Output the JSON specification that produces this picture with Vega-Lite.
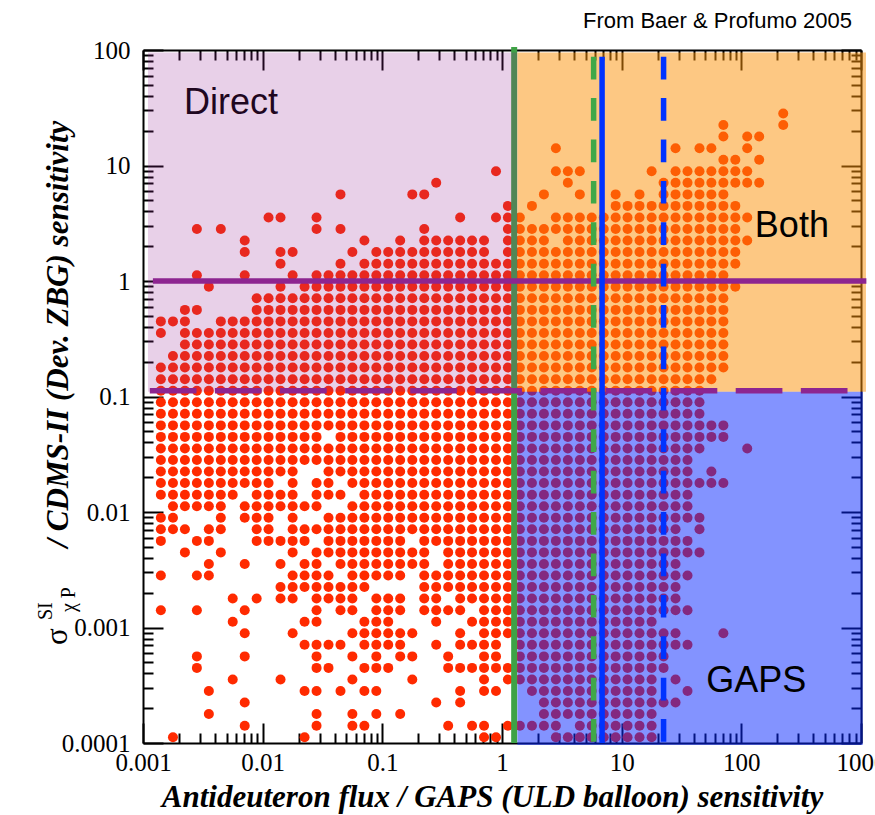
{
"$schema":"https://vega.github.io/schema/vega-lite/v6.json",
"width":718,"height":693,
"autosize":{"type":"none"},
"padding":{"left":143,"top":50,"right":14,"bottom":72},
"background":"white",
"config":{"view":{"stroke":null},"axis":{"grid":false,"tickColor":"black","tickWidth":2,"domainColor":"black","domainWidth":2,"labelFont":"Liberation Serif","labelFontSize":25,"labelColor":"black","labelFlush":false,"labelOverlap":false,"labelBound":false,"titleFont":"Liberation Serif","titleFontSize":31,"titleFontWeight":"bold","titleFontStyle":"italic","titleColor":"black","zindex":0}},
"title":{"text":"From Baer & Profumo 2005","anchor":"end","frame":"group","font":"Liberation Sans","fontSize":22,"fontWeight":"normal","color":"black","offset":5,"dx":-9},
"resolve":{"axis":{"x":"independent","y":"independent"}},
"layer":[
{"data":{"values":[
{"x":224,"y":28.2},
{"x":70.8,"y":22.4},{"x":224,"y":22.4},
{"x":70.8,"y":17.8},{"x":112,"y":17.8},{"x":141,"y":17.8},
{"x":2.82,"y":14.1},{"x":28.2,"y":14.1},{"x":44.7,"y":14.1},{"x":56.2,"y":14.1},{"x":112,"y":14.1},
{"x":70.8,"y":11.2},{"x":89.1,"y":11.2},{"x":141,"y":11.2},
{"x":0.891,"y":8.91},{"x":2.82,"y":8.91},{"x":3.55,"y":8.91},{"x":4.47,"y":8.91},{"x":17.8,"y":8.91},{"x":28.2,"y":8.91},{"x":35.5,"y":8.91},{"x":44.7,"y":8.91},{"x":56.2,"y":8.91},{"x":70.8,"y":8.91},{"x":89.1,"y":8.91},{"x":112,"y":8.91},
{"x":0.282,"y":7.08},{"x":3.55,"y":7.08},{"x":22.4,"y":7.08},{"x":28.2,"y":7.08},{"x":35.5,"y":7.08},{"x":44.7,"y":7.08},{"x":56.2,"y":7.08},{"x":70.8,"y":7.08},{"x":89.1,"y":7.08},{"x":112,"y":7.08},{"x":141,"y":7.08},
{"x":0.0447,"y":5.62},{"x":0.178,"y":5.62},{"x":0.224,"y":5.62},{"x":2.24,"y":5.62},{"x":4.47,"y":5.62},{"x":8.91,"y":5.62},{"x":14.1,"y":5.62},{"x":22.4,"y":5.62},{"x":28.2,"y":5.62},{"x":35.5,"y":5.62},{"x":44.7,"y":5.62},{"x":56.2,"y":5.62},{"x":70.8,"y":5.62},
{"x":1.12,"y":4.47},{"x":1.78,"y":4.47},{"x":8.91,"y":4.47},{"x":11.2,"y":4.47},{"x":14.1,"y":4.47},{"x":17.8,"y":4.47},{"x":22.4,"y":4.47},{"x":28.2,"y":4.47},{"x":35.5,"y":4.47},{"x":44.7,"y":4.47},{"x":56.2,"y":4.47},{"x":70.8,"y":4.47},{"x":89.1,"y":4.47},
{"x":0.0112,"y":3.55},{"x":0.0141,"y":3.55},{"x":0.0282,"y":3.55},{"x":0.447,"y":3.55},{"x":0.891,"y":3.55},{"x":1.12,"y":3.55},{"x":1.41,"y":3.55},{"x":2.82,"y":3.55},{"x":3.55,"y":3.55},{"x":4.47,"y":3.55},{"x":5.62,"y":3.55},{"x":7.08,"y":3.55},{"x":8.91,"y":3.55},{"x":11.2,"y":3.55},{"x":14.1,"y":3.55},{"x":17.8,"y":3.55},{"x":22.4,"y":3.55},{"x":28.2,"y":3.55},{"x":35.5,"y":3.55},{"x":44.7,"y":3.55},{"x":56.2,"y":3.55},{"x":70.8,"y":3.55},{"x":89.1,"y":3.55},{"x":112,"y":3.55},
{"x":0.00282,"y":2.82},{"x":0.00447,"y":2.82},{"x":0.0282,"y":2.82},{"x":0.0447,"y":2.82},{"x":0.224,"y":2.82},{"x":1.12,"y":2.82},{"x":1.41,"y":2.82},{"x":1.78,"y":2.82},{"x":2.24,"y":2.82},{"x":2.82,"y":2.82},{"x":3.55,"y":2.82},{"x":4.47,"y":2.82},{"x":5.62,"y":2.82},{"x":7.08,"y":2.82},{"x":8.91,"y":2.82},{"x":11.2,"y":2.82},{"x":14.1,"y":2.82},{"x":17.8,"y":2.82},{"x":22.4,"y":2.82},{"x":28.2,"y":2.82},{"x":35.5,"y":2.82},{"x":44.7,"y":2.82},{"x":56.2,"y":2.82},{"x":70.8,"y":2.82},{"x":89.1,"y":2.82},
{"x":0.00708,"y":2.24},{"x":0.0708,"y":2.24},{"x":0.141,"y":2.24},{"x":0.224,"y":2.24},{"x":0.282,"y":2.24},{"x":0.355,"y":2.24},{"x":0.447,"y":2.24},{"x":0.562,"y":2.24},{"x":0.708,"y":2.24},{"x":1.12,"y":2.24},{"x":1.41,"y":2.24},{"x":1.78,"y":2.24},{"x":2.24,"y":2.24},{"x":3.55,"y":2.24},{"x":4.47,"y":2.24},{"x":5.62,"y":2.24},{"x":7.08,"y":2.24},{"x":8.91,"y":2.24},{"x":11.2,"y":2.24},{"x":14.1,"y":2.24},{"x":17.8,"y":2.24},{"x":22.4,"y":2.24},{"x":28.2,"y":2.24},{"x":35.5,"y":2.24},{"x":44.7,"y":2.24},{"x":56.2,"y":2.24},{"x":70.8,"y":2.24},{"x":89.1,"y":2.24},{"x":112,"y":2.24},
{"x":0.00708,"y":1.78},{"x":0.0141,"y":1.78},{"x":0.0178,"y":1.78},{"x":0.0562,"y":1.78},{"x":0.0891,"y":1.78},{"x":0.112,"y":1.78},{"x":0.141,"y":1.78},{"x":0.178,"y":1.78},{"x":0.224,"y":1.78},{"x":0.282,"y":1.78},{"x":0.355,"y":1.78},{"x":0.447,"y":1.78},{"x":0.562,"y":1.78},{"x":0.708,"y":1.78},{"x":1.12,"y":1.78},{"x":1.41,"y":1.78},{"x":1.78,"y":1.78},{"x":2.24,"y":1.78},{"x":2.82,"y":1.78},{"x":3.55,"y":1.78},{"x":4.47,"y":1.78},{"x":5.62,"y":1.78},{"x":7.08,"y":1.78},{"x":8.91,"y":1.78},{"x":11.2,"y":1.78},{"x":14.1,"y":1.78},{"x":17.8,"y":1.78},{"x":22.4,"y":1.78},{"x":28.2,"y":1.78},{"x":35.5,"y":1.78},{"x":44.7,"y":1.78},{"x":56.2,"y":1.78},{"x":70.8,"y":1.78},{"x":89.1,"y":1.78},
{"x":0.0141,"y":1.41},{"x":0.0447,"y":1.41},{"x":0.0708,"y":1.41},{"x":0.0891,"y":1.41},{"x":0.112,"y":1.41},{"x":0.141,"y":1.41},{"x":0.178,"y":1.41},{"x":0.224,"y":1.41},{"x":0.282,"y":1.41},{"x":0.355,"y":1.41},{"x":0.447,"y":1.41},{"x":0.562,"y":1.41},{"x":0.708,"y":1.41},{"x":0.891,"y":1.41},{"x":1.12,"y":1.41},{"x":1.41,"y":1.41},{"x":1.78,"y":1.41},{"x":2.24,"y":1.41},{"x":2.82,"y":1.41},{"x":3.55,"y":1.41},{"x":4.47,"y":1.41},{"x":5.62,"y":1.41},{"x":7.08,"y":1.41},{"x":8.91,"y":1.41},{"x":11.2,"y":1.41},{"x":14.1,"y":1.41},{"x":17.8,"y":1.41},{"x":22.4,"y":1.41},{"x":28.2,"y":1.41},{"x":35.5,"y":1.41},{"x":44.7,"y":1.41},{"x":56.2,"y":1.41},{"x":70.8,"y":1.41},{"x":89.1,"y":1.41},
{"x":0.00282,"y":1.12},{"x":0.00708,"y":1.12},{"x":0.0178,"y":1.12},{"x":0.0282,"y":1.12},{"x":0.0355,"y":1.12},{"x":0.0447,"y":1.12},{"x":0.0562,"y":1.12},{"x":0.0708,"y":1.12},{"x":0.0891,"y":1.12},{"x":0.112,"y":1.12},{"x":0.141,"y":1.12},{"x":0.178,"y":1.12},{"x":0.224,"y":1.12},{"x":0.282,"y":1.12},{"x":0.355,"y":1.12},{"x":0.447,"y":1.12},{"x":0.562,"y":1.12},{"x":0.708,"y":1.12},{"x":0.891,"y":1.12},{"x":1.12,"y":1.12},{"x":1.41,"y":1.12},{"x":1.78,"y":1.12},{"x":2.24,"y":1.12},{"x":2.82,"y":1.12},{"x":3.55,"y":1.12},{"x":4.47,"y":1.12},{"x":5.62,"y":1.12},{"x":7.08,"y":1.12},{"x":8.91,"y":1.12},{"x":11.2,"y":1.12},{"x":14.1,"y":1.12},{"x":17.8,"y":1.12},{"x":22.4,"y":1.12},{"x":28.2,"y":1.12},{"x":35.5,"y":1.12},{"x":44.7,"y":1.12},{"x":56.2,"y":1.12},{"x":70.8,"y":1.12},
{"x":0.00355,"y":0.891},{"x":0.0141,"y":0.891},{"x":0.0224,"y":0.891},{"x":0.0282,"y":0.891},{"x":0.0355,"y":0.891},{"x":0.0447,"y":0.891},{"x":0.0562,"y":0.891},{"x":0.0708,"y":0.891},{"x":0.0891,"y":0.891},{"x":0.112,"y":0.891},{"x":0.141,"y":0.891},{"x":0.178,"y":0.891},{"x":0.224,"y":0.891},{"x":0.282,"y":0.891},{"x":0.355,"y":0.891},{"x":0.447,"y":0.891},{"x":0.562,"y":0.891},{"x":0.708,"y":0.891},{"x":0.891,"y":0.891},{"x":1.12,"y":0.891},{"x":1.41,"y":0.891},{"x":1.78,"y":0.891},{"x":2.24,"y":0.891},{"x":2.82,"y":0.891},{"x":3.55,"y":0.891},{"x":4.47,"y":0.891},{"x":5.62,"y":0.891},{"x":7.08,"y":0.891},{"x":8.91,"y":0.891},{"x":11.2,"y":0.891},{"x":14.1,"y":0.891},{"x":17.8,"y":0.891},{"x":22.4,"y":0.891},{"x":28.2,"y":0.891},{"x":35.5,"y":0.891},{"x":44.7,"y":0.891},{"x":56.2,"y":0.891},{"x":70.8,"y":0.891},{"x":89.1,"y":0.891},
{"x":0.00891,"y":0.708},{"x":0.0112,"y":0.708},{"x":0.0141,"y":0.708},{"x":0.0178,"y":0.708},{"x":0.0224,"y":0.708},{"x":0.0282,"y":0.708},{"x":0.0355,"y":0.708},{"x":0.0447,"y":0.708},{"x":0.0562,"y":0.708},{"x":0.0708,"y":0.708},{"x":0.0891,"y":0.708},{"x":0.112,"y":0.708},{"x":0.141,"y":0.708},{"x":0.178,"y":0.708},{"x":0.224,"y":0.708},{"x":0.282,"y":0.708},{"x":0.355,"y":0.708},{"x":0.447,"y":0.708},{"x":0.562,"y":0.708},{"x":0.708,"y":0.708},{"x":0.891,"y":0.708},{"x":1.12,"y":0.708},{"x":1.41,"y":0.708},{"x":1.78,"y":0.708},{"x":2.24,"y":0.708},{"x":2.82,"y":0.708},{"x":3.55,"y":0.708},{"x":4.47,"y":0.708},{"x":5.62,"y":0.708},{"x":7.08,"y":0.708},{"x":8.91,"y":0.708},{"x":11.2,"y":0.708},{"x":14.1,"y":0.708},{"x":17.8,"y":0.708},{"x":22.4,"y":0.708},{"x":28.2,"y":0.708},{"x":35.5,"y":0.708},{"x":44.7,"y":0.708},{"x":56.2,"y":0.708},{"x":70.8,"y":0.708},
{"x":0.00224,"y":0.562},{"x":0.00282,"y":0.562},{"x":0.00891,"y":0.562},{"x":0.0112,"y":0.562},{"x":0.0141,"y":0.562},{"x":0.0178,"y":0.562},{"x":0.0224,"y":0.562},{"x":0.0282,"y":0.562},{"x":0.0355,"y":0.562},{"x":0.0447,"y":0.562},{"x":0.0562,"y":0.562},{"x":0.0708,"y":0.562},{"x":0.0891,"y":0.562},{"x":0.112,"y":0.562},{"x":0.141,"y":0.562},{"x":0.178,"y":0.562},{"x":0.224,"y":0.562},{"x":0.282,"y":0.562},{"x":0.355,"y":0.562},{"x":0.447,"y":0.562},{"x":0.562,"y":0.562},{"x":0.708,"y":0.562},{"x":0.891,"y":0.562},{"x":1.12,"y":0.562},{"x":1.41,"y":0.562},{"x":1.78,"y":0.562},{"x":2.24,"y":0.562},{"x":2.82,"y":0.562},{"x":3.55,"y":0.562},{"x":4.47,"y":0.562},{"x":5.62,"y":0.562},{"x":7.08,"y":0.562},{"x":8.91,"y":0.562},{"x":11.2,"y":0.562},{"x":14.1,"y":0.562},{"x":17.8,"y":0.562},{"x":22.4,"y":0.562},{"x":28.2,"y":0.562},{"x":35.5,"y":0.562},{"x":44.7,"y":0.562},{"x":56.2,"y":0.562},{"x":70.8,"y":0.562},
{"x":0.00141,"y":0.447},{"x":0.00178,"y":0.447},{"x":0.00224,"y":0.447},{"x":0.00447,"y":0.447},{"x":0.00562,"y":0.447},{"x":0.00708,"y":0.447},{"x":0.00891,"y":0.447},{"x":0.0112,"y":0.447},{"x":0.0141,"y":0.447},{"x":0.0178,"y":0.447},{"x":0.0224,"y":0.447},{"x":0.0282,"y":0.447},{"x":0.0355,"y":0.447},{"x":0.0447,"y":0.447},{"x":0.0562,"y":0.447},{"x":0.0708,"y":0.447},{"x":0.0891,"y":0.447},{"x":0.112,"y":0.447},{"x":0.141,"y":0.447},{"x":0.178,"y":0.447},{"x":0.224,"y":0.447},{"x":0.282,"y":0.447},{"x":0.355,"y":0.447},{"x":0.447,"y":0.447},{"x":0.562,"y":0.447},{"x":0.708,"y":0.447},{"x":0.891,"y":0.447},{"x":1.12,"y":0.447},{"x":1.41,"y":0.447},{"x":1.78,"y":0.447},{"x":2.24,"y":0.447},{"x":2.82,"y":0.447},{"x":3.55,"y":0.447},{"x":4.47,"y":0.447},{"x":5.62,"y":0.447},{"x":7.08,"y":0.447},{"x":8.91,"y":0.447},{"x":11.2,"y":0.447},{"x":14.1,"y":0.447},{"x":17.8,"y":0.447},{"x":22.4,"y":0.447},{"x":28.2,"y":0.447},{"x":35.5,"y":0.447},{"x":44.7,"y":0.447},{"x":56.2,"y":0.447},{"x":70.8,"y":0.447},
{"x":0.00141,"y":0.355},{"x":0.00224,"y":0.355},{"x":0.00282,"y":0.355},{"x":0.00355,"y":0.355},{"x":0.00447,"y":0.355},{"x":0.00562,"y":0.355},{"x":0.00708,"y":0.355},{"x":0.00891,"y":0.355},{"x":0.0112,"y":0.355},{"x":0.0141,"y":0.355},{"x":0.0178,"y":0.355},{"x":0.0224,"y":0.355},{"x":0.0282,"y":0.355},{"x":0.0355,"y":0.355},{"x":0.0447,"y":0.355},{"x":0.0562,"y":0.355},{"x":0.0708,"y":0.355},{"x":0.0891,"y":0.355},{"x":0.112,"y":0.355},{"x":0.141,"y":0.355},{"x":0.178,"y":0.355},{"x":0.224,"y":0.355},{"x":0.282,"y":0.355},{"x":0.355,"y":0.355},{"x":0.447,"y":0.355},{"x":0.562,"y":0.355},{"x":0.708,"y":0.355},{"x":0.891,"y":0.355},{"x":1.12,"y":0.355},{"x":1.41,"y":0.355},{"x":1.78,"y":0.355},{"x":2.24,"y":0.355},{"x":2.82,"y":0.355},{"x":3.55,"y":0.355},{"x":4.47,"y":0.355},{"x":5.62,"y":0.355},{"x":7.08,"y":0.355},{"x":8.91,"y":0.355},{"x":11.2,"y":0.355},{"x":14.1,"y":0.355},{"x":17.8,"y":0.355},{"x":22.4,"y":0.355},{"x":28.2,"y":0.355},{"x":35.5,"y":0.355},{"x":44.7,"y":0.355},{"x":56.2,"y":0.355},{"x":70.8,"y":0.355},
{"x":0.00224,"y":0.282},{"x":0.00282,"y":0.282},{"x":0.00355,"y":0.282},{"x":0.00447,"y":0.282},{"x":0.00562,"y":0.282},{"x":0.00708,"y":0.282},{"x":0.00891,"y":0.282},{"x":0.0112,"y":0.282},{"x":0.0141,"y":0.282},{"x":0.0178,"y":0.282},{"x":0.0224,"y":0.282},{"x":0.0282,"y":0.282},{"x":0.0355,"y":0.282},{"x":0.0447,"y":0.282},{"x":0.0562,"y":0.282},{"x":0.0708,"y":0.282},{"x":0.0891,"y":0.282},{"x":0.112,"y":0.282},{"x":0.141,"y":0.282},{"x":0.178,"y":0.282},{"x":0.224,"y":0.282},{"x":0.282,"y":0.282},{"x":0.355,"y":0.282},{"x":0.447,"y":0.282},{"x":0.562,"y":0.282},{"x":0.708,"y":0.282},{"x":0.891,"y":0.282},{"x":1.12,"y":0.282},{"x":1.41,"y":0.282},{"x":1.78,"y":0.282},{"x":2.24,"y":0.282},{"x":2.82,"y":0.282},{"x":3.55,"y":0.282},{"x":4.47,"y":0.282},{"x":5.62,"y":0.282},{"x":7.08,"y":0.282},{"x":8.91,"y":0.282},{"x":11.2,"y":0.282},{"x":14.1,"y":0.282},{"x":17.8,"y":0.282},{"x":22.4,"y":0.282},{"x":28.2,"y":0.282},{"x":35.5,"y":0.282},{"x":44.7,"y":0.282},{"x":56.2,"y":0.282},{"x":70.8,"y":0.282},
{"x":0.00178,"y":0.224},{"x":0.00224,"y":0.224},{"x":0.00282,"y":0.224},{"x":0.00355,"y":0.224},{"x":0.00447,"y":0.224},{"x":0.00562,"y":0.224},{"x":0.00708,"y":0.224},{"x":0.00891,"y":0.224},{"x":0.0112,"y":0.224},{"x":0.0141,"y":0.224},{"x":0.0178,"y":0.224},{"x":0.0224,"y":0.224},{"x":0.0282,"y":0.224},{"x":0.0355,"y":0.224},{"x":0.0447,"y":0.224},{"x":0.0562,"y":0.224},{"x":0.0708,"y":0.224},{"x":0.0891,"y":0.224},{"x":0.112,"y":0.224},{"x":0.141,"y":0.224},{"x":0.178,"y":0.224},{"x":0.224,"y":0.224},{"x":0.282,"y":0.224},{"x":0.355,"y":0.224},{"x":0.447,"y":0.224},{"x":0.562,"y":0.224},{"x":0.708,"y":0.224},{"x":0.891,"y":0.224},{"x":1.12,"y":0.224},{"x":1.41,"y":0.224},{"x":1.78,"y":0.224},{"x":2.24,"y":0.224},{"x":2.82,"y":0.224},{"x":3.55,"y":0.224},{"x":4.47,"y":0.224},{"x":5.62,"y":0.224},{"x":7.08,"y":0.224},{"x":8.91,"y":0.224},{"x":11.2,"y":0.224},{"x":14.1,"y":0.224},{"x":17.8,"y":0.224},{"x":22.4,"y":0.224},{"x":28.2,"y":0.224},{"x":35.5,"y":0.224},{"x":44.7,"y":0.224},{"x":56.2,"y":0.224},{"x":70.8,"y":0.224},
{"x":0.00141,"y":0.178},{"x":0.00178,"y":0.178},{"x":0.00224,"y":0.178},{"x":0.00282,"y":0.178},{"x":0.00355,"y":0.178},{"x":0.00447,"y":0.178},{"x":0.00562,"y":0.178},{"x":0.00708,"y":0.178},{"x":0.00891,"y":0.178},{"x":0.0112,"y":0.178},{"x":0.0141,"y":0.178},{"x":0.0178,"y":0.178},{"x":0.0224,"y":0.178},{"x":0.0282,"y":0.178},{"x":0.0355,"y":0.178},{"x":0.0447,"y":0.178},{"x":0.0562,"y":0.178},{"x":0.0708,"y":0.178},{"x":0.0891,"y":0.178},{"x":0.112,"y":0.178},{"x":0.141,"y":0.178},{"x":0.178,"y":0.178},{"x":0.224,"y":0.178},{"x":0.282,"y":0.178},{"x":0.355,"y":0.178},{"x":0.447,"y":0.178},{"x":0.562,"y":0.178},{"x":0.708,"y":0.178},{"x":0.891,"y":0.178},{"x":1.12,"y":0.178},{"x":1.41,"y":0.178},{"x":1.78,"y":0.178},{"x":2.24,"y":0.178},{"x":2.82,"y":0.178},{"x":3.55,"y":0.178},{"x":4.47,"y":0.178},{"x":5.62,"y":0.178},{"x":7.08,"y":0.178},{"x":8.91,"y":0.178},{"x":11.2,"y":0.178},{"x":14.1,"y":0.178},{"x":17.8,"y":0.178},{"x":22.4,"y":0.178},{"x":28.2,"y":0.178},{"x":35.5,"y":0.178},{"x":44.7,"y":0.178},{"x":56.2,"y":0.178},{"x":70.8,"y":0.178},
{"x":0.00141,"y":0.141},{"x":0.00178,"y":0.141},{"x":0.00224,"y":0.141},{"x":0.00282,"y":0.141},{"x":0.00355,"y":0.141},{"x":0.00447,"y":0.141},{"x":0.00562,"y":0.141},{"x":0.00708,"y":0.141},{"x":0.00891,"y":0.141},{"x":0.0112,"y":0.141},{"x":0.0141,"y":0.141},{"x":0.0178,"y":0.141},{"x":0.0224,"y":0.141},{"x":0.0282,"y":0.141},{"x":0.0355,"y":0.141},{"x":0.0447,"y":0.141},{"x":0.0562,"y":0.141},{"x":0.0708,"y":0.141},{"x":0.0891,"y":0.141},{"x":0.112,"y":0.141},{"x":0.141,"y":0.141},{"x":0.178,"y":0.141},{"x":0.224,"y":0.141},{"x":0.282,"y":0.141},{"x":0.355,"y":0.141},{"x":0.447,"y":0.141},{"x":0.562,"y":0.141},{"x":0.708,"y":0.141},{"x":0.891,"y":0.141},{"x":1.12,"y":0.141},{"x":1.41,"y":0.141},{"x":1.78,"y":0.141},{"x":2.24,"y":0.141},{"x":2.82,"y":0.141},{"x":3.55,"y":0.141},{"x":4.47,"y":0.141},{"x":5.62,"y":0.141},{"x":7.08,"y":0.141},{"x":8.91,"y":0.141},{"x":11.2,"y":0.141},{"x":14.1,"y":0.141},{"x":17.8,"y":0.141},{"x":22.4,"y":0.141},{"x":28.2,"y":0.141},{"x":35.5,"y":0.141},{"x":44.7,"y":0.141},{"x":56.2,"y":0.141},
{"x":0.00141,"y":0.112},{"x":0.00178,"y":0.112},{"x":0.00224,"y":0.112},{"x":0.00282,"y":0.112},{"x":0.00355,"y":0.112},{"x":0.00447,"y":0.112},{"x":0.00562,"y":0.112},{"x":0.00708,"y":0.112},{"x":0.00891,"y":0.112},{"x":0.0112,"y":0.112},{"x":0.0141,"y":0.112},{"x":0.0178,"y":0.112},{"x":0.0224,"y":0.112},{"x":0.0282,"y":0.112},{"x":0.0355,"y":0.112},{"x":0.0447,"y":0.112},{"x":0.0562,"y":0.112},{"x":0.0708,"y":0.112},{"x":0.0891,"y":0.112},{"x":0.112,"y":0.112},{"x":0.141,"y":0.112},{"x":0.178,"y":0.112},{"x":0.224,"y":0.112},{"x":0.282,"y":0.112},{"x":0.355,"y":0.112},{"x":0.447,"y":0.112},{"x":0.562,"y":0.112},{"x":0.708,"y":0.112},{"x":0.891,"y":0.112},{"x":1.12,"y":0.112},{"x":1.41,"y":0.112},{"x":1.78,"y":0.112},{"x":2.24,"y":0.112},{"x":2.82,"y":0.112},{"x":3.55,"y":0.112},{"x":4.47,"y":0.112},{"x":5.62,"y":0.112},{"x":7.08,"y":0.112},{"x":8.91,"y":0.112},{"x":11.2,"y":0.112},{"x":14.1,"y":0.112},{"x":17.8,"y":0.112},{"x":22.4,"y":0.112},{"x":28.2,"y":0.112},{"x":35.5,"y":0.112},{"x":44.7,"y":0.112},
{"x":0.00141,"y":0.0891},{"x":0.00178,"y":0.0891},{"x":0.00224,"y":0.0891},{"x":0.00282,"y":0.0891},{"x":0.00355,"y":0.0891},{"x":0.00447,"y":0.0891},{"x":0.00562,"y":0.0891},{"x":0.00708,"y":0.0891},{"x":0.00891,"y":0.0891},{"x":0.0112,"y":0.0891},{"x":0.0141,"y":0.0891},{"x":0.0178,"y":0.0891},{"x":0.0224,"y":0.0891},{"x":0.0282,"y":0.0891},{"x":0.0355,"y":0.0891},{"x":0.0447,"y":0.0891},{"x":0.0562,"y":0.0891},{"x":0.0708,"y":0.0891},{"x":0.0891,"y":0.0891},{"x":0.112,"y":0.0891},{"x":0.141,"y":0.0891},{"x":0.178,"y":0.0891},{"x":0.224,"y":0.0891},{"x":0.282,"y":0.0891},{"x":0.355,"y":0.0891},{"x":0.447,"y":0.0891},{"x":0.562,"y":0.0891},{"x":0.708,"y":0.0891},{"x":0.891,"y":0.0891},{"x":1.12,"y":0.0891},{"x":1.41,"y":0.0891},{"x":1.78,"y":0.0891},{"x":2.24,"y":0.0891},{"x":2.82,"y":0.0891},{"x":3.55,"y":0.0891},{"x":4.47,"y":0.0891},{"x":5.62,"y":0.0891},{"x":7.08,"y":0.0891},{"x":8.91,"y":0.0891},{"x":11.2,"y":0.0891},{"x":14.1,"y":0.0891},{"x":17.8,"y":0.0891},{"x":22.4,"y":0.0891},{"x":28.2,"y":0.0891},{"x":35.5,"y":0.0891},{"x":44.7,"y":0.0891},
{"x":0.00141,"y":0.0708},{"x":0.00178,"y":0.0708},{"x":0.00224,"y":0.0708},{"x":0.00282,"y":0.0708},{"x":0.00355,"y":0.0708},{"x":0.00447,"y":0.0708},{"x":0.00562,"y":0.0708},{"x":0.00708,"y":0.0708},{"x":0.00891,"y":0.0708},{"x":0.0112,"y":0.0708},{"x":0.0141,"y":0.0708},{"x":0.0178,"y":0.0708},{"x":0.0224,"y":0.0708},{"x":0.0282,"y":0.0708},{"x":0.0355,"y":0.0708},{"x":0.0447,"y":0.0708},{"x":0.0562,"y":0.0708},{"x":0.0708,"y":0.0708},{"x":0.0891,"y":0.0708},{"x":0.112,"y":0.0708},{"x":0.141,"y":0.0708},{"x":0.178,"y":0.0708},{"x":0.224,"y":0.0708},{"x":0.282,"y":0.0708},{"x":0.355,"y":0.0708},{"x":0.447,"y":0.0708},{"x":0.562,"y":0.0708},{"x":0.708,"y":0.0708},{"x":0.891,"y":0.0708},{"x":1.12,"y":0.0708},{"x":1.41,"y":0.0708},{"x":1.78,"y":0.0708},{"x":2.24,"y":0.0708},{"x":2.82,"y":0.0708},{"x":3.55,"y":0.0708},{"x":4.47,"y":0.0708},{"x":5.62,"y":0.0708},{"x":7.08,"y":0.0708},{"x":8.91,"y":0.0708},{"x":11.2,"y":0.0708},{"x":14.1,"y":0.0708},{"x":17.8,"y":0.0708},{"x":22.4,"y":0.0708},{"x":28.2,"y":0.0708},{"x":35.5,"y":0.0708},{"x":44.7,"y":0.0708},
{"x":0.00141,"y":0.0562},{"x":0.00178,"y":0.0562},{"x":0.00224,"y":0.0562},{"x":0.00282,"y":0.0562},{"x":0.00355,"y":0.0562},{"x":0.00447,"y":0.0562},{"x":0.00562,"y":0.0562},{"x":0.00708,"y":0.0562},{"x":0.00891,"y":0.0562},{"x":0.0112,"y":0.0562},{"x":0.0141,"y":0.0562},{"x":0.0178,"y":0.0562},{"x":0.0224,"y":0.0562},{"x":0.0282,"y":0.0562},{"x":0.0355,"y":0.0562},{"x":0.0447,"y":0.0562},{"x":0.0562,"y":0.0562},{"x":0.0708,"y":0.0562},{"x":0.0891,"y":0.0562},{"x":0.112,"y":0.0562},{"x":0.141,"y":0.0562},{"x":0.178,"y":0.0562},{"x":0.224,"y":0.0562},{"x":0.282,"y":0.0562},{"x":0.355,"y":0.0562},{"x":0.447,"y":0.0562},{"x":0.562,"y":0.0562},{"x":0.708,"y":0.0562},{"x":0.891,"y":0.0562},{"x":1.12,"y":0.0562},{"x":1.41,"y":0.0562},{"x":1.78,"y":0.0562},{"x":2.24,"y":0.0562},{"x":2.82,"y":0.0562},{"x":3.55,"y":0.0562},{"x":4.47,"y":0.0562},{"x":5.62,"y":0.0562},{"x":7.08,"y":0.0562},{"x":8.91,"y":0.0562},{"x":11.2,"y":0.0562},{"x":14.1,"y":0.0562},{"x":17.8,"y":0.0562},{"x":22.4,"y":0.0562},{"x":28.2,"y":0.0562},{"x":35.5,"y":0.0562},{"x":44.7,"y":0.0562},{"x":56.2,"y":0.0562},{"x":70.8,"y":0.0562},
{"x":0.00141,"y":0.0447},{"x":0.00178,"y":0.0447},{"x":0.00224,"y":0.0447},{"x":0.00282,"y":0.0447},{"x":0.00355,"y":0.0447},{"x":0.00447,"y":0.0447},{"x":0.00562,"y":0.0447},{"x":0.00708,"y":0.0447},{"x":0.00891,"y":0.0447},{"x":0.0112,"y":0.0447},{"x":0.0141,"y":0.0447},{"x":0.0178,"y":0.0447},{"x":0.0224,"y":0.0447},{"x":0.0282,"y":0.0447},{"x":0.0447,"y":0.0447},{"x":0.0562,"y":0.0447},{"x":0.0708,"y":0.0447},{"x":0.0891,"y":0.0447},{"x":0.112,"y":0.0447},{"x":0.141,"y":0.0447},{"x":0.178,"y":0.0447},{"x":0.224,"y":0.0447},{"x":0.282,"y":0.0447},{"x":0.355,"y":0.0447},{"x":0.447,"y":0.0447},{"x":0.562,"y":0.0447},{"x":0.708,"y":0.0447},{"x":0.891,"y":0.0447},{"x":1.12,"y":0.0447},{"x":1.41,"y":0.0447},{"x":1.78,"y":0.0447},{"x":2.24,"y":0.0447},{"x":2.82,"y":0.0447},{"x":3.55,"y":0.0447},{"x":4.47,"y":0.0447},{"x":5.62,"y":0.0447},{"x":7.08,"y":0.0447},{"x":8.91,"y":0.0447},{"x":11.2,"y":0.0447},{"x":14.1,"y":0.0447},{"x":17.8,"y":0.0447},{"x":22.4,"y":0.0447},{"x":28.2,"y":0.0447},{"x":35.5,"y":0.0447},{"x":44.7,"y":0.0447},{"x":56.2,"y":0.0447},{"x":70.8,"y":0.0447},
{"x":0.00141,"y":0.0355},{"x":0.00178,"y":0.0355},{"x":0.00224,"y":0.0355},{"x":0.00282,"y":0.0355},{"x":0.00355,"y":0.0355},{"x":0.00447,"y":0.0355},{"x":0.00562,"y":0.0355},{"x":0.00708,"y":0.0355},{"x":0.00891,"y":0.0355},{"x":0.0112,"y":0.0355},{"x":0.0141,"y":0.0355},{"x":0.0178,"y":0.0355},{"x":0.0224,"y":0.0355},{"x":0.0282,"y":0.0355},{"x":0.0355,"y":0.0355},{"x":0.0447,"y":0.0355},{"x":0.0562,"y":0.0355},{"x":0.0708,"y":0.0355},{"x":0.0891,"y":0.0355},{"x":0.112,"y":0.0355},{"x":0.141,"y":0.0355},{"x":0.178,"y":0.0355},{"x":0.224,"y":0.0355},{"x":0.282,"y":0.0355},{"x":0.355,"y":0.0355},{"x":0.447,"y":0.0355},{"x":0.562,"y":0.0355},{"x":0.708,"y":0.0355},{"x":0.891,"y":0.0355},{"x":1.12,"y":0.0355},{"x":1.41,"y":0.0355},{"x":1.78,"y":0.0355},{"x":2.24,"y":0.0355},{"x":2.82,"y":0.0355},{"x":3.55,"y":0.0355},{"x":4.47,"y":0.0355},{"x":5.62,"y":0.0355},{"x":7.08,"y":0.0355},{"x":8.91,"y":0.0355},{"x":11.2,"y":0.0355},{"x":14.1,"y":0.0355},{"x":17.8,"y":0.0355},{"x":22.4,"y":0.0355},{"x":28.2,"y":0.0355},{"x":35.5,"y":0.0355},{"x":44.7,"y":0.0355},{"x":112,"y":0.0355},
{"x":0.00141,"y":0.0282},{"x":0.00178,"y":0.0282},{"x":0.00224,"y":0.0282},{"x":0.00282,"y":0.0282},{"x":0.00355,"y":0.0282},{"x":0.00447,"y":0.0282},{"x":0.00562,"y":0.0282},{"x":0.00708,"y":0.0282},{"x":0.00891,"y":0.0282},{"x":0.0112,"y":0.0282},{"x":0.0141,"y":0.0282},{"x":0.0178,"y":0.0282},{"x":0.0224,"y":0.0282},{"x":0.0282,"y":0.0282},{"x":0.0355,"y":0.0282},{"x":0.0447,"y":0.0282},{"x":0.0562,"y":0.0282},{"x":0.0708,"y":0.0282},{"x":0.0891,"y":0.0282},{"x":0.112,"y":0.0282},{"x":0.141,"y":0.0282},{"x":0.178,"y":0.0282},{"x":0.224,"y":0.0282},{"x":0.282,"y":0.0282},{"x":0.355,"y":0.0282},{"x":0.447,"y":0.0282},{"x":0.562,"y":0.0282},{"x":0.708,"y":0.0282},{"x":0.891,"y":0.0282},{"x":1.12,"y":0.0282},{"x":1.41,"y":0.0282},{"x":1.78,"y":0.0282},{"x":2.24,"y":0.0282},{"x":2.82,"y":0.0282},{"x":3.55,"y":0.0282},{"x":4.47,"y":0.0282},{"x":5.62,"y":0.0282},{"x":7.08,"y":0.0282},{"x":8.91,"y":0.0282},{"x":11.2,"y":0.0282},{"x":14.1,"y":0.0282},{"x":17.8,"y":0.0282},{"x":22.4,"y":0.0282},{"x":28.2,"y":0.0282},{"x":35.5,"y":0.0282},
{"x":0.00141,"y":0.0224},{"x":0.00178,"y":0.0224},{"x":0.00224,"y":0.0224},{"x":0.00282,"y":0.0224},{"x":0.00355,"y":0.0224},{"x":0.00447,"y":0.0224},{"x":0.00562,"y":0.0224},{"x":0.00708,"y":0.0224},{"x":0.00891,"y":0.0224},{"x":0.0112,"y":0.0224},{"x":0.0141,"y":0.0224},{"x":0.0178,"y":0.0224},{"x":0.0355,"y":0.0224},{"x":0.0447,"y":0.0224},{"x":0.0562,"y":0.0224},{"x":0.0708,"y":0.0224},{"x":0.0891,"y":0.0224},{"x":0.112,"y":0.0224},{"x":0.141,"y":0.0224},{"x":0.178,"y":0.0224},{"x":0.224,"y":0.0224},{"x":0.282,"y":0.0224},{"x":0.355,"y":0.0224},{"x":0.447,"y":0.0224},{"x":0.562,"y":0.0224},{"x":0.708,"y":0.0224},{"x":0.891,"y":0.0224},{"x":1.12,"y":0.0224},{"x":1.41,"y":0.0224},{"x":1.78,"y":0.0224},{"x":2.24,"y":0.0224},{"x":2.82,"y":0.0224},{"x":3.55,"y":0.0224},{"x":4.47,"y":0.0224},{"x":5.62,"y":0.0224},{"x":7.08,"y":0.0224},{"x":8.91,"y":0.0224},{"x":11.2,"y":0.0224},{"x":14.1,"y":0.0224},{"x":17.8,"y":0.0224},{"x":22.4,"y":0.0224},{"x":28.2,"y":0.0224},{"x":35.5,"y":0.0224},{"x":56.2,"y":0.0224},
{"x":0.00141,"y":0.0178},{"x":0.00178,"y":0.0178},{"x":0.00224,"y":0.0178},{"x":0.00282,"y":0.0178},{"x":0.00355,"y":0.0178},{"x":0.00447,"y":0.0178},{"x":0.00562,"y":0.0178},{"x":0.00708,"y":0.0178},{"x":0.00891,"y":0.0178},{"x":0.0112,"y":0.0178},{"x":0.0178,"y":0.0178},{"x":0.0282,"y":0.0178},{"x":0.0355,"y":0.0178},{"x":0.0562,"y":0.0178},{"x":0.0708,"y":0.0178},{"x":0.0891,"y":0.0178},{"x":0.112,"y":0.0178},{"x":0.141,"y":0.0178},{"x":0.178,"y":0.0178},{"x":0.224,"y":0.0178},{"x":0.282,"y":0.0178},{"x":0.355,"y":0.0178},{"x":0.447,"y":0.0178},{"x":0.562,"y":0.0178},{"x":0.708,"y":0.0178},{"x":0.891,"y":0.0178},{"x":1.12,"y":0.0178},{"x":1.41,"y":0.0178},{"x":1.78,"y":0.0178},{"x":2.24,"y":0.0178},{"x":2.82,"y":0.0178},{"x":3.55,"y":0.0178},{"x":4.47,"y":0.0178},{"x":5.62,"y":0.0178},{"x":7.08,"y":0.0178},{"x":8.91,"y":0.0178},{"x":11.2,"y":0.0178},{"x":14.1,"y":0.0178},{"x":17.8,"y":0.0178},{"x":22.4,"y":0.0178},{"x":28.2,"y":0.0178},{"x":35.5,"y":0.0178},{"x":44.7,"y":0.0178},{"x":56.2,"y":0.0178},{"x":70.8,"y":0.0178},
{"x":0.00141,"y":0.0141},{"x":0.00178,"y":0.0141},{"x":0.00224,"y":0.0141},{"x":0.00282,"y":0.0141},{"x":0.00355,"y":0.0141},{"x":0.00447,"y":0.0141},{"x":0.00562,"y":0.0141},{"x":0.00891,"y":0.0141},{"x":0.0112,"y":0.0141},{"x":0.0141,"y":0.0141},{"x":0.0178,"y":0.0141},{"x":0.0282,"y":0.0141},{"x":0.0355,"y":0.0141},{"x":0.0447,"y":0.0141},{"x":0.0708,"y":0.0141},{"x":0.0891,"y":0.0141},{"x":0.112,"y":0.0141},{"x":0.141,"y":0.0141},{"x":0.178,"y":0.0141},{"x":0.224,"y":0.0141},{"x":0.282,"y":0.0141},{"x":0.355,"y":0.0141},{"x":0.447,"y":0.0141},{"x":0.562,"y":0.0141},{"x":0.708,"y":0.0141},{"x":0.891,"y":0.0141},{"x":1.12,"y":0.0141},{"x":1.41,"y":0.0141},{"x":1.78,"y":0.0141},{"x":2.24,"y":0.0141},{"x":2.82,"y":0.0141},{"x":3.55,"y":0.0141},{"x":4.47,"y":0.0141},{"x":5.62,"y":0.0141},{"x":7.08,"y":0.0141},{"x":8.91,"y":0.0141},{"x":11.2,"y":0.0141},{"x":14.1,"y":0.0141},{"x":17.8,"y":0.0141},{"x":22.4,"y":0.0141},{"x":28.2,"y":0.0141},{"x":35.5,"y":0.0141},
{"x":0.00178,"y":0.0112},{"x":0.00224,"y":0.0112},{"x":0.00282,"y":0.0112},{"x":0.00355,"y":0.0112},{"x":0.00447,"y":0.0112},{"x":0.00708,"y":0.0112},{"x":0.00891,"y":0.0112},{"x":0.0112,"y":0.0112},{"x":0.0141,"y":0.0112},{"x":0.0178,"y":0.0112},{"x":0.0224,"y":0.0112},{"x":0.0282,"y":0.0112},{"x":0.0562,"y":0.0112},{"x":0.0708,"y":0.0112},{"x":0.0891,"y":0.0112},{"x":0.112,"y":0.0112},{"x":0.141,"y":0.0112},{"x":0.178,"y":0.0112},{"x":0.224,"y":0.0112},{"x":0.282,"y":0.0112},{"x":0.355,"y":0.0112},{"x":0.447,"y":0.0112},{"x":0.562,"y":0.0112},{"x":0.708,"y":0.0112},{"x":0.891,"y":0.0112},{"x":1.12,"y":0.0112},{"x":1.41,"y":0.0112},{"x":1.78,"y":0.0112},{"x":2.24,"y":0.0112},{"x":2.82,"y":0.0112},{"x":3.55,"y":0.0112},{"x":4.47,"y":0.0112},{"x":5.62,"y":0.0112},{"x":7.08,"y":0.0112},{"x":8.91,"y":0.0112},{"x":11.2,"y":0.0112},{"x":14.1,"y":0.0112},{"x":17.8,"y":0.0112},{"x":22.4,"y":0.0112},{"x":28.2,"y":0.0112},{"x":35.5,"y":0.0112},
{"x":0.00141,"y":0.00891},{"x":0.00178,"y":0.00891},{"x":0.00447,"y":0.00891},{"x":0.00708,"y":0.00891},{"x":0.00891,"y":0.00891},{"x":0.0112,"y":0.00891},{"x":0.0178,"y":0.00891},{"x":0.0355,"y":0.00891},{"x":0.0447,"y":0.00891},{"x":0.0562,"y":0.00891},{"x":0.0708,"y":0.00891},{"x":0.0891,"y":0.00891},{"x":0.112,"y":0.00891},{"x":0.141,"y":0.00891},{"x":0.178,"y":0.00891},{"x":0.224,"y":0.00891},{"x":0.282,"y":0.00891},{"x":0.355,"y":0.00891},{"x":0.447,"y":0.00891},{"x":0.562,"y":0.00891},{"x":0.708,"y":0.00891},{"x":0.891,"y":0.00891},{"x":1.12,"y":0.00891},{"x":1.41,"y":0.00891},{"x":1.78,"y":0.00891},{"x":2.24,"y":0.00891},{"x":2.82,"y":0.00891},{"x":3.55,"y":0.00891},{"x":4.47,"y":0.00891},{"x":5.62,"y":0.00891},{"x":7.08,"y":0.00891},{"x":8.91,"y":0.00891},{"x":11.2,"y":0.00891},{"x":14.1,"y":0.00891},{"x":17.8,"y":0.00891},{"x":22.4,"y":0.00891},{"x":28.2,"y":0.00891},{"x":35.5,"y":0.00891},{"x":44.7,"y":0.00891},
{"x":0.00141,"y":0.00708},{"x":0.00178,"y":0.00708},{"x":0.00224,"y":0.00708},{"x":0.00355,"y":0.00708},{"x":0.00447,"y":0.00708},{"x":0.00891,"y":0.00708},{"x":0.0112,"y":0.00708},{"x":0.0178,"y":0.00708},{"x":0.0224,"y":0.00708},{"x":0.0282,"y":0.00708},{"x":0.0355,"y":0.00708},{"x":0.0447,"y":0.00708},{"x":0.0562,"y":0.00708},{"x":0.0708,"y":0.00708},{"x":0.0891,"y":0.00708},{"x":0.112,"y":0.00708},{"x":0.141,"y":0.00708},{"x":0.178,"y":0.00708},{"x":0.224,"y":0.00708},{"x":0.282,"y":0.00708},{"x":0.355,"y":0.00708},{"x":0.447,"y":0.00708},{"x":0.562,"y":0.00708},{"x":0.708,"y":0.00708},{"x":0.891,"y":0.00708},{"x":1.12,"y":0.00708},{"x":1.41,"y":0.00708},{"x":1.78,"y":0.00708},{"x":2.24,"y":0.00708},{"x":2.82,"y":0.00708},{"x":3.55,"y":0.00708},{"x":4.47,"y":0.00708},{"x":5.62,"y":0.00708},{"x":7.08,"y":0.00708},{"x":8.91,"y":0.00708},{"x":11.2,"y":0.00708},{"x":14.1,"y":0.00708},{"x":17.8,"y":0.00708},{"x":22.4,"y":0.00708},{"x":28.2,"y":0.00708},{"x":44.7,"y":0.00708},
{"x":0.00141,"y":0.00562},{"x":0.00282,"y":0.00562},{"x":0.00355,"y":0.00562},{"x":0.00891,"y":0.00562},{"x":0.0112,"y":0.00562},{"x":0.0141,"y":0.00562},{"x":0.0178,"y":0.00562},{"x":0.0224,"y":0.00562},{"x":0.0355,"y":0.00562},{"x":0.0447,"y":0.00562},{"x":0.0562,"y":0.00562},{"x":0.0708,"y":0.00562},{"x":0.0891,"y":0.00562},{"x":0.112,"y":0.00562},{"x":0.141,"y":0.00562},{"x":0.224,"y":0.00562},{"x":0.282,"y":0.00562},{"x":0.355,"y":0.00562},{"x":0.447,"y":0.00562},{"x":0.562,"y":0.00562},{"x":0.708,"y":0.00562},{"x":0.891,"y":0.00562},{"x":1.12,"y":0.00562},{"x":1.41,"y":0.00562},{"x":1.78,"y":0.00562},{"x":2.24,"y":0.00562},{"x":2.82,"y":0.00562},{"x":3.55,"y":0.00562},{"x":4.47,"y":0.00562},{"x":5.62,"y":0.00562},{"x":7.08,"y":0.00562},{"x":8.91,"y":0.00562},{"x":11.2,"y":0.00562},{"x":14.1,"y":0.00562},{"x":17.8,"y":0.00562},{"x":22.4,"y":0.00562},{"x":28.2,"y":0.00562},{"x":35.5,"y":0.00562},
{"x":0.00224,"y":0.00447},{"x":0.00447,"y":0.00447},{"x":0.0178,"y":0.00447},{"x":0.0282,"y":0.00447},{"x":0.0355,"y":0.00447},{"x":0.0447,"y":0.00447},{"x":0.0562,"y":0.00447},{"x":0.0708,"y":0.00447},{"x":0.0891,"y":0.00447},{"x":0.112,"y":0.00447},{"x":0.141,"y":0.00447},{"x":0.178,"y":0.00447},{"x":0.224,"y":0.00447},{"x":0.355,"y":0.00447},{"x":0.447,"y":0.00447},{"x":0.562,"y":0.00447},{"x":0.708,"y":0.00447},{"x":0.891,"y":0.00447},{"x":1.12,"y":0.00447},{"x":1.41,"y":0.00447},{"x":1.78,"y":0.00447},{"x":2.24,"y":0.00447},{"x":2.82,"y":0.00447},{"x":3.55,"y":0.00447},{"x":4.47,"y":0.00447},{"x":5.62,"y":0.00447},{"x":7.08,"y":0.00447},{"x":8.91,"y":0.00447},{"x":11.2,"y":0.00447},{"x":14.1,"y":0.00447},{"x":17.8,"y":0.00447},{"x":22.4,"y":0.00447},{"x":28.2,"y":0.00447},{"x":35.5,"y":0.00447},{"x":44.7,"y":0.00447},
{"x":0.00355,"y":0.00355},{"x":0.00708,"y":0.00355},{"x":0.0141,"y":0.00355},{"x":0.0224,"y":0.00355},{"x":0.0282,"y":0.00355},{"x":0.0447,"y":0.00355},{"x":0.0562,"y":0.00355},{"x":0.0708,"y":0.00355},{"x":0.0891,"y":0.00355},{"x":0.112,"y":0.00355},{"x":0.141,"y":0.00355},{"x":0.178,"y":0.00355},{"x":0.224,"y":0.00355},{"x":0.355,"y":0.00355},{"x":0.447,"y":0.00355},{"x":0.562,"y":0.00355},{"x":0.708,"y":0.00355},{"x":0.891,"y":0.00355},{"x":1.12,"y":0.00355},{"x":1.41,"y":0.00355},{"x":1.78,"y":0.00355},{"x":2.24,"y":0.00355},{"x":2.82,"y":0.00355},{"x":3.55,"y":0.00355},{"x":4.47,"y":0.00355},{"x":5.62,"y":0.00355},{"x":7.08,"y":0.00355},{"x":8.91,"y":0.00355},{"x":11.2,"y":0.00355},{"x":14.1,"y":0.00355},{"x":17.8,"y":0.00355},{"x":22.4,"y":0.00355},{"x":28.2,"y":0.00355},
{"x":0.00141,"y":0.00282},{"x":0.00282,"y":0.00282},{"x":0.00355,"y":0.00282},{"x":0.0178,"y":0.00282},{"x":0.0224,"y":0.00282},{"x":0.0282,"y":0.00282},{"x":0.0355,"y":0.00282},{"x":0.0562,"y":0.00282},{"x":0.0708,"y":0.00282},{"x":0.0891,"y":0.00282},{"x":0.112,"y":0.00282},{"x":0.141,"y":0.00282},{"x":0.224,"y":0.00282},{"x":0.282,"y":0.00282},{"x":0.355,"y":0.00282},{"x":0.447,"y":0.00282},{"x":0.562,"y":0.00282},{"x":0.708,"y":0.00282},{"x":0.891,"y":0.00282},{"x":1.12,"y":0.00282},{"x":1.41,"y":0.00282},{"x":1.78,"y":0.00282},{"x":2.24,"y":0.00282},{"x":2.82,"y":0.00282},{"x":3.55,"y":0.00282},{"x":4.47,"y":0.00282},{"x":5.62,"y":0.00282},{"x":7.08,"y":0.00282},{"x":8.91,"y":0.00282},{"x":11.2,"y":0.00282},{"x":14.1,"y":0.00282},{"x":17.8,"y":0.00282},{"x":22.4,"y":0.00282},{"x":28.2,"y":0.00282},{"x":35.5,"y":0.00282},
{"x":0.0141,"y":0.00224},{"x":0.0178,"y":0.00224},{"x":0.0224,"y":0.00224},{"x":0.0282,"y":0.00224},{"x":0.0355,"y":0.00224},{"x":0.0447,"y":0.00224},{"x":0.0562,"y":0.00224},{"x":0.0708,"y":0.00224},{"x":0.224,"y":0.00224},{"x":0.282,"y":0.00224},{"x":0.355,"y":0.00224},{"x":0.447,"y":0.00224},{"x":0.562,"y":0.00224},{"x":0.708,"y":0.00224},{"x":0.891,"y":0.00224},{"x":1.12,"y":0.00224},{"x":1.41,"y":0.00224},{"x":1.78,"y":0.00224},{"x":2.24,"y":0.00224},{"x":2.82,"y":0.00224},{"x":3.55,"y":0.00224},{"x":4.47,"y":0.00224},{"x":5.62,"y":0.00224},{"x":7.08,"y":0.00224},{"x":8.91,"y":0.00224},{"x":11.2,"y":0.00224},{"x":14.1,"y":0.00224},{"x":17.8,"y":0.00224},{"x":22.4,"y":0.00224},{"x":28.2,"y":0.00224},
{"x":0.00562,"y":0.00178},{"x":0.00891,"y":0.00178},{"x":0.0141,"y":0.00178},{"x":0.0178,"y":0.00178},{"x":0.0282,"y":0.00178},{"x":0.0355,"y":0.00178},{"x":0.0447,"y":0.00178},{"x":0.0562,"y":0.00178},{"x":0.0891,"y":0.00178},{"x":0.112,"y":0.00178},{"x":0.141,"y":0.00178},{"x":0.224,"y":0.00178},{"x":0.282,"y":0.00178},{"x":0.447,"y":0.00178},{"x":0.562,"y":0.00178},{"x":0.708,"y":0.00178},{"x":0.891,"y":0.00178},{"x":1.12,"y":0.00178},{"x":1.41,"y":0.00178},{"x":1.78,"y":0.00178},{"x":2.24,"y":0.00178},{"x":2.82,"y":0.00178},{"x":3.55,"y":0.00178},{"x":4.47,"y":0.00178},{"x":5.62,"y":0.00178},{"x":7.08,"y":0.00178},{"x":8.91,"y":0.00178},{"x":11.2,"y":0.00178},{"x":14.1,"y":0.00178},{"x":17.8,"y":0.00178},{"x":22.4,"y":0.00178},{"x":28.2,"y":0.00178},
{"x":0.00141,"y":0.00141},{"x":0.00282,"y":0.00141},{"x":0.00708,"y":0.00141},{"x":0.0282,"y":0.00141},{"x":0.0447,"y":0.00141},{"x":0.0562,"y":0.00141},{"x":0.0891,"y":0.00141},{"x":0.112,"y":0.00141},{"x":0.141,"y":0.00141},{"x":0.224,"y":0.00141},{"x":0.282,"y":0.00141},{"x":0.355,"y":0.00141},{"x":0.447,"y":0.00141},{"x":0.708,"y":0.00141},{"x":0.891,"y":0.00141},{"x":1.12,"y":0.00141},{"x":1.41,"y":0.00141},{"x":1.78,"y":0.00141},{"x":2.24,"y":0.00141},{"x":2.82,"y":0.00141},{"x":3.55,"y":0.00141},{"x":4.47,"y":0.00141},{"x":5.62,"y":0.00141},{"x":7.08,"y":0.00141},{"x":8.91,"y":0.00141},{"x":11.2,"y":0.00141},{"x":14.1,"y":0.00141},{"x":17.8,"y":0.00141},{"x":22.4,"y":0.00141},{"x":28.2,"y":0.00141},{"x":35.5,"y":0.00141},
{"x":0.00562,"y":0.00112},{"x":0.0224,"y":0.00112},{"x":0.0282,"y":0.00112},{"x":0.0708,"y":0.00112},{"x":0.0891,"y":0.00112},{"x":0.112,"y":0.00112},{"x":0.282,"y":0.00112},{"x":0.562,"y":0.00112},{"x":0.708,"y":0.00112},{"x":0.891,"y":0.00112},{"x":1.12,"y":0.00112},{"x":1.41,"y":0.00112},{"x":1.78,"y":0.00112},{"x":2.24,"y":0.00112},{"x":2.82,"y":0.00112},{"x":3.55,"y":0.00112},{"x":4.47,"y":0.00112},{"x":5.62,"y":0.00112},{"x":7.08,"y":0.00112},{"x":8.91,"y":0.00112},{"x":11.2,"y":0.00112},{"x":14.1,"y":0.00112},{"x":17.8,"y":0.00112},
{"x":0.00708,"y":0.000891},{"x":0.0178,"y":0.000891},{"x":0.0562,"y":0.000891},{"x":0.0708,"y":0.000891},{"x":0.0891,"y":0.000891},{"x":0.112,"y":0.000891},{"x":0.141,"y":0.000891},{"x":0.178,"y":0.000891},{"x":0.447,"y":0.000891},{"x":0.708,"y":0.000891},{"x":0.891,"y":0.000891},{"x":1.12,"y":0.000891},{"x":1.41,"y":0.000891},{"x":1.78,"y":0.000891},{"x":2.24,"y":0.000891},{"x":2.82,"y":0.000891},{"x":3.55,"y":0.000891},{"x":4.47,"y":0.000891},{"x":5.62,"y":0.000891},{"x":7.08,"y":0.000891},{"x":8.91,"y":0.000891},{"x":11.2,"y":0.000891},{"x":14.1,"y":0.000891},{"x":17.8,"y":0.000891},{"x":22.4,"y":0.000891},{"x":28.2,"y":0.000891},{"x":70.8,"y":0.000891},
{"x":0.0224,"y":0.000708},{"x":0.0282,"y":0.000708},{"x":0.0355,"y":0.000708},{"x":0.0447,"y":0.000708},{"x":0.0708,"y":0.000708},{"x":0.0891,"y":0.000708},{"x":0.112,"y":0.000708},{"x":0.141,"y":0.000708},{"x":0.282,"y":0.000708},{"x":0.447,"y":0.000708},{"x":0.562,"y":0.000708},{"x":0.708,"y":0.000708},{"x":0.891,"y":0.000708},{"x":1.41,"y":0.000708},{"x":1.78,"y":0.000708},{"x":2.24,"y":0.000708},{"x":2.82,"y":0.000708},{"x":3.55,"y":0.000708},{"x":4.47,"y":0.000708},{"x":5.62,"y":0.000708},{"x":7.08,"y":0.000708},{"x":8.91,"y":0.000708},{"x":11.2,"y":0.000708},{"x":14.1,"y":0.000708},{"x":17.8,"y":0.000708},{"x":22.4,"y":0.000708},{"x":28.2,"y":0.000708},{"x":35.5,"y":0.000708},
{"x":0.00282,"y":0.000562},{"x":0.00708,"y":0.000562},{"x":0.0282,"y":0.000562},{"x":0.0562,"y":0.000562},{"x":0.0891,"y":0.000562},{"x":0.141,"y":0.000562},{"x":0.178,"y":0.000562},{"x":0.355,"y":0.000562},{"x":0.708,"y":0.000562},{"x":0.891,"y":0.000562},{"x":1.41,"y":0.000562},{"x":1.78,"y":0.000562},{"x":2.24,"y":0.000562},{"x":2.82,"y":0.000562},{"x":3.55,"y":0.000562},{"x":4.47,"y":0.000562},{"x":5.62,"y":0.000562},{"x":7.08,"y":0.000562},{"x":8.91,"y":0.000562},{"x":11.2,"y":0.000562},{"x":14.1,"y":0.000562},{"x":17.8,"y":0.000562},{"x":22.4,"y":0.000562},
{"x":0.00282,"y":0.000447},{"x":0.0282,"y":0.000447},{"x":0.0355,"y":0.000447},{"x":0.0708,"y":0.000447},{"x":0.0891,"y":0.000447},{"x":0.112,"y":0.000447},{"x":0.355,"y":0.000447},{"x":0.447,"y":0.000447},{"x":0.562,"y":0.000447},{"x":0.708,"y":0.000447},{"x":0.891,"y":0.000447},{"x":1.12,"y":0.000447},{"x":1.41,"y":0.000447},{"x":1.78,"y":0.000447},{"x":2.24,"y":0.000447},{"x":2.82,"y":0.000447},{"x":3.55,"y":0.000447},{"x":4.47,"y":0.000447},{"x":5.62,"y":0.000447},{"x":7.08,"y":0.000447},{"x":8.91,"y":0.000447},{"x":11.2,"y":0.000447},{"x":14.1,"y":0.000447},{"x":17.8,"y":0.000447},{"x":22.4,"y":0.000447},
{"x":0.00562,"y":0.000355},{"x":0.0141,"y":0.000355},{"x":0.0562,"y":0.000355},{"x":0.178,"y":0.000355},{"x":0.708,"y":0.000355},{"x":1.12,"y":0.000355},{"x":1.41,"y":0.000355},{"x":1.78,"y":0.000355},{"x":2.24,"y":0.000355},{"x":2.82,"y":0.000355},{"x":3.55,"y":0.000355},{"x":4.47,"y":0.000355},{"x":5.62,"y":0.000355},{"x":7.08,"y":0.000355},{"x":8.91,"y":0.000355},{"x":11.2,"y":0.000355},{"x":14.1,"y":0.000355},{"x":17.8,"y":0.000355},{"x":28.2,"y":0.000355},
{"x":0.00355,"y":0.000282},{"x":0.0224,"y":0.000282},{"x":0.0282,"y":0.000282},{"x":0.0447,"y":0.000282},{"x":0.0708,"y":0.000282},{"x":0.0891,"y":0.000282},{"x":0.447,"y":0.000282},{"x":0.708,"y":0.000282},{"x":0.891,"y":0.000282},{"x":1.78,"y":0.000282},{"x":2.24,"y":0.000282},{"x":2.82,"y":0.000282},{"x":3.55,"y":0.000282},{"x":4.47,"y":0.000282},{"x":5.62,"y":0.000282},{"x":7.08,"y":0.000282},{"x":8.91,"y":0.000282},{"x":11.2,"y":0.000282},{"x":14.1,"y":0.000282},{"x":17.8,"y":0.000282},{"x":35.5,"y":0.000282},
{"x":0.00708,"y":0.000224},{"x":0.282,"y":0.000224},{"x":0.447,"y":0.000224},{"x":2.24,"y":0.000224},{"x":2.82,"y":0.000224},{"x":3.55,"y":0.000224},{"x":4.47,"y":0.000224},{"x":5.62,"y":0.000224},{"x":7.08,"y":0.000224},{"x":8.91,"y":0.000224},{"x":11.2,"y":0.000224},{"x":14.1,"y":0.000224},{"x":17.8,"y":0.000224},{"x":22.4,"y":0.000224},{"x":28.2,"y":0.000224},
{"x":0.00355,"y":0.000178},{"x":0.0282,"y":0.000178},{"x":0.0562,"y":0.000178},{"x":0.0891,"y":0.000178},{"x":0.141,"y":0.000178},{"x":2.24,"y":0.000178},{"x":2.82,"y":0.000178},{"x":3.55,"y":0.000178},{"x":4.47,"y":0.000178},{"x":5.62,"y":0.000178},{"x":7.08,"y":0.000178},{"x":8.91,"y":0.000178},{"x":11.2,"y":0.000178},{"x":14.1,"y":0.000178},{"x":17.8,"y":0.000178},
{"x":0.00708,"y":0.000141},{"x":0.0282,"y":0.000141},{"x":0.0562,"y":0.000141},{"x":0.0708,"y":0.000141},{"x":0.355,"y":0.000141},{"x":0.562,"y":0.000141},{"x":0.708,"y":0.000141},{"x":1.12,"y":0.000141},{"x":1.41,"y":0.000141},{"x":1.78,"y":0.000141},{"x":2.24,"y":0.000141},{"x":2.82,"y":0.000141},{"x":4.47,"y":0.000141},{"x":5.62,"y":0.000141},{"x":7.08,"y":0.000141},{"x":8.91,"y":0.000141},{"x":11.2,"y":0.000141},{"x":14.1,"y":0.000141},{"x":17.8,"y":0.000141},
{"x":0.00178,"y":0.000112},{"x":0.0224,"y":0.000112},{"x":0.708,"y":0.000112},{"x":0.891,"y":0.000112},{"x":2.82,"y":0.000112},{"x":3.55,"y":0.000112},{"x":4.47,"y":0.000112},{"x":5.62,"y":0.000112},{"x":7.08,"y":0.000112},{"x":8.91,"y":0.000112},{"x":11.2,"y":0.000112},{"x":14.1,"y":0.000112},{"x":17.8,"y":0.000112}
]},
"mark":{"type":"circle","size":100,"opacity":1,"color":"#FF2A00"},
"encoding":{
"x":{"field":"x","type":"quantitative","scale":{"type":"log","domain":[0.001,1000],"nice":false},
"axis":{"orient":"bottom","offset":0,"values":[0.001,0.002,0.003,0.004,0.005,0.006,0.007,0.008,0.009,0.01,0.02,0.03,0.04,0.05,0.06,0.07,0.08,0.09,0.1,0.2,0.3,0.4,0.5,0.6,0.7,0.8,0.9,1,2,3,4,5,6,7,8,9,10,20,30,40,50,60,70,80,90,100,200,300,400,500,600,700,800,900,1000],"format":"~g","labelExpr":"abs(log(datum.value)/LN10-round(log(datum.value)/LN10))<0.001?datum.label:''","tickSize":{"condition":{"test":"abs(log(datum.value)/LN10-round(log(datum.value)/LN10))<0.001","value":-20},"value":-10},"labelPadding":27,"title":"Antideuteron flux / GAPS (ULD balloon) sensitivity","titleX":349,"titleY":63,"titleAlign":"center","titleBaseline":"alphabetic","titleAngle":0}},
"y":{"field":"y","type":"quantitative","scale":{"type":"log","domain":[0.0001,100],"nice":false},
"axis":{"orient":"left","offset":0,"values":[0.0001,0.0002,0.0003,0.0004,0.0005,0.0006,0.0007,0.0008,0.0009,0.001,0.002,0.003,0.004,0.005,0.006,0.007,0.008,0.009,0.01,0.02,0.03,0.04,0.05,0.06,0.07,0.08,0.09,0.1,0.2,0.3,0.4,0.5,0.6,0.7,0.8,0.9,1,2,3,4,5,6,7,8,9,10,20,30,40,50,60,70,80,90,100],"format":"~g","labelExpr":"abs(log(datum.value)/LN10-round(log(datum.value)/LN10))<0.001?datum.label:''","tickSize":{"condition":{"test":"abs(log(datum.value)/LN10-round(log(datum.value)/LN10))<0.001","value":-20},"value":-10},"labelPadding":33,"title":"/ CDMS-II (Dev. ZBG) sensitivity","titleX":-76,"titleY":497,"titleAlign":"left","titleBaseline":"alphabetic","titleAngle":270}}
}},
{"data":{"values":[{"x":1.264,"y":106,"y2":0.0001}]},"mark":{"type":"rule","color":"#3EA246","strokeWidth":6},
"encoding":{"x":{"field":"x","type":"quantitative","scale":{"type":"log","domain":[0.001,1000],"nice":false},"axis":null},"y":{"field":"y","type":"quantitative","scale":{"type":"log","domain":[0.0001,100],"nice":false},"axis":null},"y2":{"field":"y2"}}},
{"data":{"values":[{"label":"Direct","x":0.0022,"y":27.7}]},"mark":{"type":"text","font":"Liberation Sans","fontSize":36,"align":"left","baseline":"alphabetic","color":"black"},
"encoding":{"x":{"field":"x","type":"quantitative","scale":{"type":"log","domain":[0.001,1000],"nice":false},"axis":null},"y":{"field":"y","type":"quantitative","scale":{"type":"log","domain":[0.0001,100],"nice":false},"axis":null},"text":{"field":"label"}}},
{"data":{"values":[{"region":"Direct","x":0.0011,"x2":1.345,"y":0.11,"y2":95}]},"mark":{"type":"rect","color":"#911F91","opacity":0.21},
"encoding":{"x":{"field":"x","type":"quantitative","scale":{"type":"log","domain":[0.001,1000],"nice":false},
"axis":{"orient":"top","offset":0,"values":[0.001,0.002,0.003,0.004,0.005,0.006,0.007,0.008,0.009,0.01,0.02,0.03,0.04,0.05,0.06,0.07,0.08,0.09,0.1,0.2,0.3,0.4,0.5,0.6,0.7,0.8,0.9,1,2,3,4,5,6,7,8,9,10,20,30,40,50,60,70,80,90,100,200,300,400,500,600,700,800,900,1000],"labels":false,"title":null,"tickSize":{"condition":{"test":"abs(log(datum.value)/LN10-round(log(datum.value)/LN10))<0.001","value":-20},"value":-10}}},
"x2":{"field":"x2"},
"y":{"field":"y","type":"quantitative","scale":{"type":"log","domain":[0.0001,100],"nice":false},
"axis":{"orient":"right","offset":0,"values":[0.0001,0.0002,0.0003,0.0004,0.0005,0.0006,0.0007,0.0008,0.0009,0.001,0.002,0.003,0.004,0.005,0.006,0.007,0.008,0.009,0.01,0.02,0.03,0.04,0.05,0.06,0.07,0.08,0.09,0.1,0.2,0.3,0.4,0.5,0.6,0.7,0.8,0.9,1,2,3,4,5,6,7,8,9,10,20,30,40,50,60,70,80,90,100],"labels":false,"title":null,"tickSize":{"condition":{"test":"abs(log(datum.value)/LN10-round(log(datum.value)/LN10))<0.001","value":-20},"value":-10}}},
"y2":{"field":"y2"}}},
{"data":{"values":[{"region":"Both","x":1.345,"x2":1100,"y":0.11,"y2":95}]},"mark":{"type":"rect","color":"#FB9107","opacity":0.5},
"encoding":{"x":{"field":"x","type":"quantitative","scale":{"type":"log","domain":[0.001,1000],"nice":false},"axis":null},"x2":{"field":"x2"},"y":{"field":"y","type":"quantitative","scale":{"type":"log","domain":[0.0001,100],"nice":false},"axis":null},"y2":{"field":"y2"}}},
{"data":{"values":[{"region":"GAPS","x":1.345,"x2":1035,"y":0.0000962,"y2":0.11}]},"mark":{"type":"rect","color":"#0727FF","opacity":0.5},
"encoding":{"x":{"field":"x","type":"quantitative","scale":{"type":"log","domain":[0.001,1000],"nice":false},"axis":null},"x2":{"field":"x2"},"y":{"field":"y","type":"quantitative","scale":{"type":"log","domain":[0.0001,100],"nice":false},"axis":null},"y2":{"field":"y2"}}},
{"data":{"values":[{"x":0.00121,"x2":1109,"y":1}]},"mark":{"type":"rule","color":"#8D2590","strokeWidth":5.5},
"encoding":{"x":{"field":"x","type":"quantitative","scale":{"type":"log","domain":[0.001,1000],"nice":false},"axis":null},"x2":{"field":"x2"},"y":{"field":"y","type":"quantitative","scale":{"type":"log","domain":[0.0001,100],"nice":false},"axis":null}}},
{"data":{"values":[{"x":0.00114,"x2":791,"y":0.112}]},"mark":{"type":"rule","color":"#8D2590","strokeWidth":5.5,"strokeDash":[46.7,18.4]},
"encoding":{"x":{"field":"x","type":"quantitative","scale":{"type":"log","domain":[0.001,1000],"nice":false},"axis":null},"x2":{"field":"x2"},"y":{"field":"y","type":"quantitative","scale":{"type":"log","domain":[0.0001,100],"nice":false},"axis":null}}},
{"data":{"values":[{"x":5.83,"y":87.5,"y2":0.0001}]},"mark":{"type":"rule","color":"#40A848","strokeWidth":5.5,"strokeDash":[22.7,18.7]},
"encoding":{"x":{"field":"x","type":"quantitative","scale":{"type":"log","domain":[0.001,1000],"nice":false},"axis":null},"y":{"field":"y","type":"quantitative","scale":{"type":"log","domain":[0.0001,100],"nice":false},"axis":null},"y2":{"field":"y2"}}},
{"data":{"values":[{"x":6.86,"y":87.5,"y2":0.0001}]},"mark":{"type":"rule","color":"#0033FF","strokeWidth":5.5},
"encoding":{"x":{"field":"x","type":"quantitative","scale":{"type":"log","domain":[0.001,1000],"nice":false},"axis":null},"y":{"field":"y","type":"quantitative","scale":{"type":"log","domain":[0.0001,100],"nice":false},"axis":null},"y2":{"field":"y2"}}},
{"data":{"values":[{"x":22.4,"y":87.5,"y2":0.0001}]},"mark":{"type":"rule","color":"#0033FF","strokeWidth":5.5,"strokeDash":[22.7,18.7]},
"encoding":{"x":{"field":"x","type":"quantitative","scale":{"type":"log","domain":[0.001,1000],"nice":false},"axis":null},"y":{"field":"y","type":"quantitative","scale":{"type":"log","domain":[0.0001,100],"nice":false},"axis":null},"y2":{"field":"y2"}}},
{"data":{"values":[{"label":"Both","x":129.7,"y":2.39},{"label":"GAPS","x":50.8,"y":0.000278}]},"mark":{"type":"text","font":"Liberation Sans","fontSize":36,"align":"left","baseline":"alphabetic","color":"black"},
"encoding":{"x":{"field":"x","type":"quantitative","scale":{"type":"log","domain":[0.001,1000],"nice":false},"axis":null},"y":{"field":"y","type":"quantitative","scale":{"type":"log","domain":[0.0001,100],"nice":false},"axis":null},"text":{"field":"label"}}},
{"data":{"values":[{"label":"σ","x":0.000232,"y":0.000706}]},"mark":{"type":"text","font":"Liberation Serif","fontSize":31,"angle":270,"align":"left","baseline":"alphabetic","color":"black"},
"encoding":{"x":{"field":"x","type":"quantitative","scale":{"type":"log","domain":[0.001,1000],"nice":false},"axis":null},"y":{"field":"y","type":"quantitative","scale":{"type":"log","domain":[0.0001,100],"nice":false},"axis":null},"text":{"field":"label"}}},
{"data":{"values":[{"label":"SI","x":0.000174,"y":0.00116},{"label":"χ P","x":0.00027,"y":0.00136}]},"mark":{"type":"text","font":"Liberation Serif","fontSize":20,"angle":270,"align":"left","baseline":"alphabetic","color":"black"},
"encoding":{"x":{"field":"x","type":"quantitative","scale":{"type":"log","domain":[0.001,1000],"nice":false},"axis":null},"y":{"field":"y","type":"quantitative","scale":{"type":"log","domain":[0.0001,100],"nice":false},"axis":null},"text":{"field":"label"}}}
]
}
